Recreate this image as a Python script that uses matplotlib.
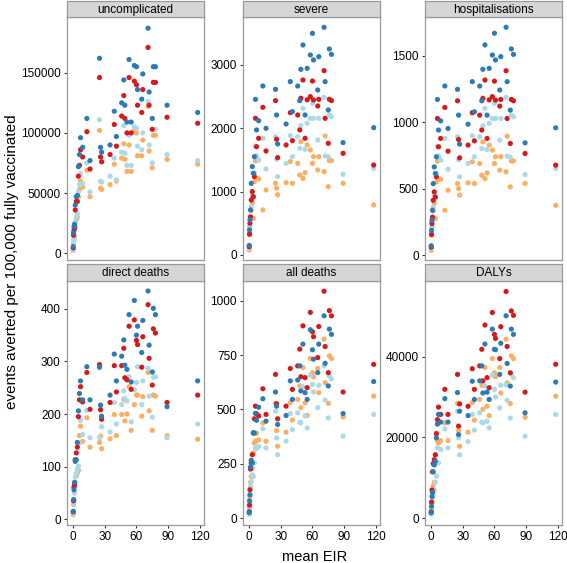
import numpy as np
import matplotlib
matplotlib.use("Agg")
import matplotlib.pyplot as plt

plt.rcParams['font.family'] = ['Liberation Sans', 'DejaVu Sans']

# mean EIR of each simulated setting (shared by all panels)
eir = [0.1, 0.4, 0.8, 1.3, 2, 3, 4, 5, 6, 7, 9, 13, 16, 25, 26, 27, 35, 39, 41, 46,
       48, 49, 51, 53, 55, 58, 60, 61, 65, 66, 71, 72, 75, 76, 78, 89, 118]

# ---- uncomplicated ----
unc_dblue = [5500, 17000, 22000, 24000, 40000, 47000, 48000, 72000, 82000, 96000, 88000, 112000, 77000,
             162000, 88000, 84000, 90000, 118000, 97000, 125000, 144000, 123000, 109000, 161000, 109000,
             156000, 155000, 136000, 128000, 149000, 187000, 134000, 112000, 155000, 155000, 123000, 117000]
unc_red = [4500, 15000, 19000, 21000, 36000, 43000, 43000, 64000, 73000, 86000, 80000, 101000, 70000,
           146000, 80000, 76000, 82000, 107000, 89000, 114000, 131000, 112000, 100000, 146000, 100000,
           143000, 140000, 123000, 117000, 136000, 171000, 123000, 103000, 142000, 142000, 113000, 108000]
unc_lblue = [3000, 9000, 12000, 14000, 26000, 30000, 33000, 51000, 57000, 66000, 58000, 75000, 51000,
             111000, 60000, 59000, 64000, 79000, 61000, 84000, 106000, 83000, 73000, 98000, 73000,
             105000, 104000, 89000, 86000, 100000, 126000, 90000, 75000, 103000, 103000, 82000, 77000]
unc_orange = [2500, 8000, 11000, 13000, 22000, 28000, 30000, 47000, 53000, 60000, 55000, 69000, 47000,
              102000, 54000, 53000, 57000, 74000, 60000, 79000, 91000, 78000, 68000, 90000, 68000,
              102000, 100000, 81000, 81000, 94000, 122000, 85000, 71000, 98000, 98000, 78000, 74000]

# ---- severe ----
sev_dblue = [150, 395, 553, 710, 1130, 1395, 1290, 1553, 2458, 1974, 2120, 2668, 2000, 2616, 2210, 1753,
             2068, 2737, 2263, 2668, 2437, 2932, 3316, 2210, 2947, 3158, 3500, 3079, 2605, 3131, 3595,
             2737, 2290, 3253, 3168, 1774, 2010]
sev_red = [130, 330, 500, 600, 868, 1000, 921, 1237, 2158, 1710, 1842, 2332, 1642, 2437, 1826, 1537,
           1737, 2247, 1805, 2210, 1974, 2474, 2763, 1842, 2450, 2500, 2747, 2447, 2352, 2458, 2910,
           2158, 1763, 2458, 2437, 1605, 1421]
sev_lblue = [105, 342, 447, 605, 763, 947, 900, 1290, 1721, 1568, 1500, 1842, 1358, 1868, 1510, 1237,
             1447, 1884, 1553, 1868, 1684, 2042, 2316, 1668, 2079, 2158, 2395, 2158, 1816, 2158, 2490,
             1563, 1550, 2210, 2184, 1274, 1368]
sev_orange = [79, 316, 450, 579, 700, 816, 579, 1158, 1484, 1553, 1200, 711, 1026, 1132, 1053, 950,
              1142, 1474, 1132, 1447, 1263, 1789, 1210, 1300, 1737, 1658, 1447, 1553, 1342, 1553, 1316,
              1879, 1079, 1489, 1489, 1132, 789]

# ---- hospitalisations ----
hos_dblue = [72, 188, 264, 339, 539, 665, 615, 741, 1172, 942, 1011, 1273, 954, 1248, 1054, 836,
             986, 1306, 1079, 1273, 1162, 1399, 1582, 1054, 1406, 1506, 1670, 1469, 1243, 1494, 1715,
             1306, 1092, 1552, 1511, 846, 959]
hos_red = [62, 157, 239, 286, 414, 477, 439, 590, 1029, 816, 879, 1112, 783, 1162, 871, 733,
           829, 1072, 861, 1054, 942, 1180, 1318, 879, 1169, 1193, 1310, 1167, 1122, 1172, 1388,
           1029, 841, 1172, 1162, 766, 678]
hos_lblue = [50, 163, 213, 289, 364, 452, 429, 615, 821, 748, 716, 879, 648, 891, 720, 590,
             690, 899, 741, 891, 803, 974, 1105, 796, 992, 1029, 1142, 1029, 866, 1029, 1188,
             746, 739, 1054, 1042, 608, 653]
hos_orange = [38, 151, 215, 276, 334, 389, 276, 552, 708, 741, 572, 339, 489, 540, 502, 453,
              545, 703, 540, 690, 602, 853, 577, 620, 829, 791, 690, 741, 640, 741, 628,
              896, 515, 710, 710, 540, 376]

# ---- direct deaths ----
dd_dblue = [15, 37, 56, 70, 110, 113, 146, 206, 239, 263, 227, 290, 227, 289, 217, 196, 236, 314, 263,
            310, 341, 293, 285, 389, 261, 416, 350, 367, 317, 378, 434, 331, 280, 401, 389, 214, 263]
dd_red = [14, 35, 61, 65, 113, 126, 137, 195, 227, 252, 223, 279, 209, 294, 208, 190, 222, 292, 242,
          292, 325, 269, 265, 367, 247, 379, 340, 332, 289, 347, 408, 306, 255, 362, 354, 222, 236]
dd_lblue = [11, 30, 37, 50, 80, 88, 95, 101, 145, 188, 161, 207, 155, 155, 212, 176, 166, 222, 181,
            218, 244, 230, 225, 271, 185, 246, 260, 290, 218, 263, 287, 234, 194, 270, 271, 155, 181]
dd_orange = [9, 28, 37, 50, 70, 82, 88, 93, 159, 177, 148, 193, 137, 146, 158, 134, 153, 199, 159,
             199, 228, 187, 200, 252, 169, 218, 236, 236, 196, 233, 279, 206, 169, 236, 234, 159, 152]

# ---- all deaths ----
ad_dblue = [26, 80, 108, 235, 266, 254, 392, 392, 482, 450, 510, 549, 446, 580, 515, 431, 472, 631, 546,
            635, 700, 585, 800, 577, 546, 866, 774, 731, 669, 800, 930, 712, 608, 869, 845, 481, 628]
ad_red = [30, 60, 131, 226, 254, 292, 392, 457, 515, 480, 470, 595, 477, 661, 526, 457, 515, 688, 592,
          700, 777, 650, 884, 646, 600, 946, 857, 834, 738, 881, 1043, 789, 669, 954, 930, 580, 707]
ad_lblue = [18, 45, 69, 146, 170, 200, 192, 254, 323, 320, 330, 411, 323, 492, 369, 292, 354, 481, 407,
            484, 441, 438, 604, 470, 415, 657, 615, 580, 508, 611, 700, 543, 461, 654, 641, 377, 477]
ad_orange = [20, 60, 100, 165, 192, 230, 300, 346, 354, 390, 360, 438, 354, 528, 403, 331, 395, 531, 451,
             546, 608, 508, 692, 530, 472, 734, 669, 650, 688, 577, 823, 623, 528, 746, 734, 465, 561]

# ---- DALYs ----
da_dblue = [1400, 3000, 5400, 6400, 11500, 13200, 14100, 19900, 23300, 25700, 23800, 29600, 23800,
            31100, 20700, 26500, 25400, 33900, 29400, 34000, 37700, 31000, 43100, 31200, 29400,
            46800, 41800, 41700, 35600, 43300, 50100, 38300, 32700, 46800, 45500, 26100, 33700]
da_red = [1600, 4000, 7000, 11500, 13500, 14500, 15700, 20900, 24400, 27500, 25700, 31900, 25700,
          35600, 22800, 28300, 27700, 37000, 31900, 37700, 41800, 34000, 47800, 34800, 32300,
          50900, 45500, 44500, 39500, 47400, 56100, 42500, 36000, 51300, 50200, 31200, 38100]
da_lblue = [1000, 2200, 3700, 5000, 6000, 7000, 8900, 10400, 17400, 13700, 17000, 22100, 17400,
            26500, 19900, 15700, 19000, 25700, 21800, 26100, 23800, 23600, 32700, 24000, 22400,
            35400, 31900, 30000, 27300, 32900, 33000, 29200, 24800, 35600, 34800, 20300, 25700]
da_orange = [1200, 2500, 4000, 7000, 8000, 8900, 15700, 21100, 19200, 18600, 19200, 23600, 19200,
             28400, 21700, 17800, 21300, 28600, 24300, 29400, 32900, 27000, 37300, 27700, 25400,
             39500, 36000, 35000, 37300, 31000, 44300, 33500, 28400, 40200, 39500, 25000, 30200]

titles = ["uncomplicated", "severe", "hospitalisations", "direct deaths", "all deaths", "DALYs"]
series = [
    (unc_orange, unc_lblue, unc_red, unc_dblue),
    (sev_orange, sev_lblue, sev_red, sev_dblue),
    (hos_orange, hos_lblue, hos_red, hos_dblue),
    (dd_orange, dd_lblue, dd_red, dd_dblue),
    (ad_orange, ad_lblue, ad_red, ad_dblue),
    (da_orange, da_lblue, da_red, da_dblue),
]
colors = ["#fdae61", "#abd9e9", "#d7191c", "#2c7bb6"]
yticks = [[0, 50000, 100000, 150000], [0, 1000, 2000, 3000], [0, 500, 1000, 1500],
          [0, 100, 200, 300, 400], [0, 250, 500, 750, 1000], [0, 20000, 40000]]
ylims = [(-5600, 196300), (-80, 3758), (-35, 1792), (-11, 453), (-31, 1090), (-1660, 58700)]

W, H = 567, 563
fig = plt.figure(figsize=(W / 100, H / 100), dpi=100)

cols = [(67, 204), (243, 380), (425, 562)]
rows = [(1, 17, 260), (264, 281, 525)]  # strip top, panel top, panel bottom

for k in range(6):
    r, c = divmod(k, 3)
    l, rgt = cols[c]
    st, pt, pb = rows[r]
    ax = fig.add_axes([l / W, 1 - pb / H, (rgt - l) / W, (pb - pt) / H])
    for ys, col in zip(series[k], colors):
        ax.scatter(eir, ys, s=14, color=col, edgecolors='none', zorder=3)
    ax.set_xlim(-5.8, 124)
    ax.set_ylim(*ylims[k])
    ax.set_yticks(yticks[k])
    ax.set_yticklabels([str(v) for v in yticks[k]])
    ax.set_xticks([0, 30, 60, 90, 120])
    for sp in ax.spines.values():
        sp.set_color("#999999")
        sp.set_linewidth(0.9)
    ax.tick_params(axis='both', length=2.5, width=0.8, color="#333333", labelsize=8.5,
                   labelcolor="black", pad=2)
    if r == 0:
        ax.tick_params(axis='x', bottom=False, labelbottom=False)

    sax = fig.add_axes([l / W, 1 - pt / H, (rgt - l) / W, (pt - st) / H])
    sax.set_facecolor("#d6d6d6")
    sax.set_xticks([])
    sax.set_yticks([])
    for sp in sax.spines.values():
        sp.set_color("#9a9a9a")
        sp.set_linewidth(0.9)
    sax.text(0.5, 0.45, titles[k], ha='center', va='center', fontsize=8.5, transform=sax.transAxes)

fig.text(12 / W, 1 - 262 / H, "events averted per 100,000 fully vaccinated", rotation=90,
         ha='center', va='center', fontsize=11)
fig.text(315 / W, 1 - 557 / H, "mean EIR", ha='center', va='center', fontsize=10.5)

fig.savefig("out.png", dpi=100)
